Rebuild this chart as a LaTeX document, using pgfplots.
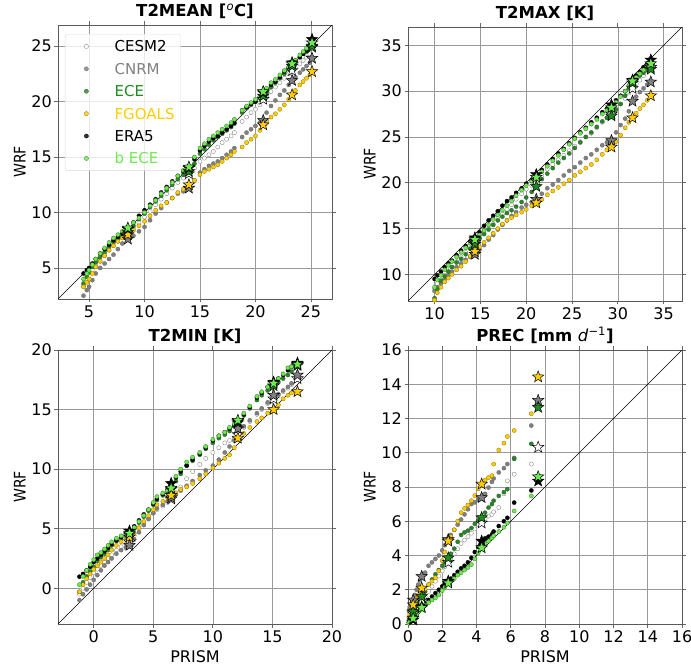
\documentclass[border=0pt]{standalone}
\usepackage{graphicx}
\usepackage{pgfplots}
\pgfplotsset{compat=1.18}
\usepackage{pgfplotstable}
\usepackage{fontspec}
\setmainfont{DejaVu Sans}
\definecolor{cnrm}{RGB}{128,128,128}
\definecolor{ece}{RGB}{30,140,30}
\definecolor{fgoals}{RGB}{255,205,0}
\definecolor{bece}{RGB}{110,235,80}

\pgfdeclareplotmark{fstar}{%
 \pgfpathmoveto{\pgfpointpolar{90}{\pgfplotmarksize}}%
 \pgfpathlineto{\pgfpointpolar{126}{0.42\pgfplotmarksize}}%
 \pgfpathlineto{\pgfpointpolar{162}{\pgfplotmarksize}}%
 \pgfpathlineto{\pgfpointpolar{198}{0.42\pgfplotmarksize}}%
 \pgfpathlineto{\pgfpointpolar{234}{\pgfplotmarksize}}%
 \pgfpathlineto{\pgfpointpolar{270}{0.42\pgfplotmarksize}}%
 \pgfpathlineto{\pgfpointpolar{306}{\pgfplotmarksize}}%
 \pgfpathlineto{\pgfpointpolar{342}{0.42\pgfplotmarksize}}%
 \pgfpathlineto{\pgfpointpolar{18}{\pgfplotmarksize}}%
 \pgfpathlineto{\pgfpointpolar{54}{0.42\pgfplotmarksize}}%
 \pgfpathclose\pgfusepathqfillstroke}

\newcommand{\wrf}{{\fontsize{16}{19}\selectfont\scalebox{0.88}[1]{WRF}}}

\pgfplotsset{
 qq/.style={width=274pt,height=274pt,scale only axis,anchor=north west,
  grid=major, major grid style={black!40,line width=0.6pt},
  axis line style={black!65,line width=0.8pt},
  tick align=outside, major tick length=3.5pt, tick style={black!60,line width=0.8pt},
  /pgf/number format/assume math mode=true,
  ticklabel style={font=\fontsize{16}{19}\selectfont},
  xticklabel style={inner sep=3pt},
  yticklabel style={inner sep=2.5pt},
  title style={font=\fontsize{16.5}{19}\selectfont\bfseries, at={(axis description cs:0.5,1)}, anchor=base, yshift=2.5pt},
  every axis y label/.style={at={(axis description cs:-0.139,0.5)}, rotate=90, anchor=center},
  every axis x label/.style={at={(axis description cs:0.5,-0.12)}, anchor=center, font=\fontsize{16}{19}\selectfont},
  ylabel={\wrf},
  legend image code/.code={\path (0pt,0pt) (30pt,0pt); \draw[mark repeat=2,mark phase=2] plot coordinates {(0pt,0pt) (15pt,0pt) (30pt,0pt)};},
 },
 dot/.style={only marks, mark=*, mark size=2.1pt},
 cS/.style={dot, mark options={fill=white, draw=black!55, line width=0.3pt}},
 nS/.style={dot, mark options={fill=cnrm, draw=black!60, line width=0.3pt}},
 eS/.style={dot, mark options={fill=ece, draw=black!70, line width=0.3pt}},
 fS/.style={dot, mark options={fill=fgoals, draw=fgoals!55!black, line width=0.3pt}},
 rS/.style={dot, mark options={fill=black, draw=black, line width=0.3pt}},
 bS/.style={dot, mark options={fill=bece, draw=bece!50!black, line width=0.3pt}},
 st/.style={only marks, mark=fstar, mark size=6pt, forget plot, mark options={draw=black, line width=0.5pt, fill=#1}},
 diag/.style={black, line width=0.5pt, forget plot},
}

% ---------------- T2MEAN ----------------
\pgfplotstableread{
x c n e f r b
4.5 3.4 2.5 3.6 3.3 4.5 4.0
4.8 3.9 3.0 4.2 3.7 4.8 4.5
5.0 4.3 3.3 4.6 4.0 5.0 4.8
5.3 4.8 3.9 5.1 4.5 5.4 5.3
5.6 5.2 4.5 5.5 5.1 5.8 5.8
6.0 5.6 5.0 6.0 5.6 6.3 6.3
6.4 6.1 5.4 6.4 6.1 6.7 6.8
6.8 6.6 5.8 6.9 6.6 7.1 7.3
7.2 7.0 6.2 7.3 7.0 7.5 7.7
7.6 7.4 6.7 7.6 7.4 7.8 8.0
8.0 7.7 7.2 7.9 7.7 8.1 8.3
8.5 8.0 7.6 8.2 8.0 8.5 8.6
9.0 8.6 7.9 8.8 8.4 9.1 9.1
9.5 9.1 8.3 9.4 8.8 9.7 9.5
10.0 9.6 8.7 9.9 9.2 10.2 10.0
10.5 10.1 9.3 10.5 9.7 10.7 10.6
11.0 10.7 9.9 11.0 10.2 11.2 11.1
11.5 11.2 10.4 11.5 10.6 11.8 11.7
12.0 11.7 10.9 12.0 10.9 12.3 12.2
12.5 12.2 11.3 12.5 11.3 12.8 12.7
13.0 12.7 11.7 13.0 11.8 13.3 13.3
13.5 13.1 11.9 13.4 12.1 13.7 13.8
14.0 13.5 12.2 13.7 12.5 14.0 14.1
14.5 14.0 12.9 14.4 12.9 14.8 15.0
15.0 14.6 13.6 15.3 13.4 15.6 15.8
15.4 14.9 13.9 15.7 13.7 16.0 16.2
15.8 15.2 14.2 16.1 13.9 16.4 16.6
16.2 15.5 14.4 16.5 14.1 16.7 16.9
16.6 15.9 14.6 16.8 14.3 16.9 17.2
17.0 16.3 14.9 17.1 14.6 17.2 17.5
17.4 16.6 15.2 17.4 14.9 17.5 17.8
17.8 16.9 15.5 17.7 15.2 17.8 18.1
18.1 17.2 15.8 18.0 15.5 18.1 18.4
18.8 18.2 16.8 19.0 15.9 19.2 19.2
19.2 18.6 17.2 19.4 16.3 19.5 19.6
19.6 19.0 17.5 19.7 16.6 19.8 19.9
20.0 19.3 17.8 20.0 16.9 20.0 20.2
20.4 19.7 18.1 20.3 17.4 20.4 20.5
20.7 20.2 18.3 20.5 17.9 20.8 20.8
21.0 20.5 19.0 20.8 18.2 21.1 21.2
21.4 20.9 19.6 21.3 18.6 21.5 21.7
21.8 21.3 20.1 21.7 18.9 21.8 22.0
22.2 21.7 20.6 22.1 19.3 22.2 22.4
22.6 22.1 21.0 22.5 19.7 22.7 22.8
23.0 22.5 21.5 22.9 20.2 23.1 23.1
23.3 22.8 21.9 23.2 20.6 23.5 23.4
23.6 23.0 22.2 23.5 21.0 23.7 23.7
24.0 23.4 22.6 24.0 21.5 24.0 24.2
24.3 23.7 22.9 24.3 21.8 24.3 24.5
24.6 24.0 23.2 24.5 22.1 24.6 24.8
24.9 24.3 23.5 24.8 22.4 24.9 25.0
}\tmean
\pgfplotstableread{
x c n e f r b
8.5 8.0 7.6 8.2 8.0 8.5 8.6
14.0 13.5 12.2 13.7 12.5 14.0 14.1
20.7 20.2 18.3 20.5 17.9 20.8 20.9
23.3 22.8 21.9 23.2 20.6 23.5 23.4
25.1 24.9 23.9 25.0 22.7 25.6 25.3
}\tmeanS

% ---------------- T2MAX ----------------
\pgfplotstableread{
x c n e f r b
10.0 8.5 8.2 7.4 7.2 9.5 8.6
10.3 9.0 8.6 8.4 8.0 9.9 9.4
10.7 9.4 9.0 9.3 8.6 10.3 9.9
11.1 9.9 9.5 9.8 9.2 10.8 10.5
11.5 10.4 9.9 10.3 9.6 11.2 11.0
11.9 10.8 10.3 10.8 10.0 11.5 11.4
12.4 11.4 10.8 11.3 10.5 12.1 11.9
12.9 11.9 11.2 11.7 10.9 12.6 12.4
13.4 12.4 11.6 12.2 11.4 13.1 12.9
13.9 12.9 11.9 12.8 12.0 13.6 13.4
14.4 13.5 12.2 13.3 12.5 14.0 13.8
14.9 14.0 12.7 13.9 13.0 14.6 14.3
15.4 14.5 13.2 14.4 13.5 15.3 14.8
15.9 15.0 13.8 14.9 14.0 15.9 15.4
16.4 15.5 14.3 15.4 14.5 16.4 16.0
16.9 16.1 14.9 15.9 15.0 16.9 16.5
17.4 16.6 15.4 16.3 15.5 17.5 17.0
17.9 17.1 15.9 16.7 15.9 18.0 17.5
18.4 17.6 16.4 17.0 16.2 18.4 18.0
18.9 18.2 16.8 17.4 16.5 18.9 18.6
19.5 18.8 17.3 17.9 16.8 19.4 19.2
20.0 19.3 17.6 18.4 17.1 19.9 19.7
20.6 19.7 17.9 19.0 17.5 20.3 20.2
21.1 20.2 18.2 19.6 17.8 20.7 20.6
21.7 20.8 18.8 20.4 18.2 21.4 21.2
22.3 21.5 19.4 21.0 18.7 22.0 21.8
22.9 22.0 19.8 21.6 19.1 22.6 22.4
23.5 22.5 20.3 22.2 19.5 23.2 23.0
24.1 23.0 20.8 22.7 19.9 23.7 23.6
24.7 23.5 21.3 23.2 20.3 24.3 24.2
25.3 24.0 21.7 23.8 20.8 24.9 24.8
25.9 24.5 22.2 24.4 21.2 25.5 25.4
26.5 25.0 22.7 25.0 21.6 26.0 25.9
27.1 25.4 23.1 25.5 22.0 26.6 26.4
27.7 26.0 23.6 26.1 22.5 27.1 26.9
28.3 26.6 24.1 26.7 23.1 27.7 27.5
28.8 27.1 24.4 27.1 23.6 28.1 27.9
29.3 27.5 24.6 27.3 23.9 28.5 28.2
29.8 28.0 25.5 28.0 24.5 29.0 28.8
30.3 28.6 26.3 28.6 25.2 29.5 29.4
30.8 29.2 27.0 29.5 26.0 30.0 30.0
31.2 29.8 27.8 30.3 26.6 30.6 30.6
31.6 30.3 28.9 30.9 27.1 31.2 31.1
32.0 30.8 29.4 31.3 27.6 31.7 31.5
32.4 31.2 29.9 31.7 28.1 32.1 31.9
32.8 31.7 30.3 32.0 28.5 32.6 32.3
33.2 32.2 30.7 32.3 29.0 33.0 32.7
}\tmax
\pgfplotstableread{
x c n e f r b
14.4 13.5 12.2 13.3 12.5 14.0 13.8
21.1 20.2 18.2 19.6 17.8 20.9 20.6
29.3 27.5 24.6 27.3 23.9 28.5 28.2
31.6 30.3 28.9 30.9 27.1 31.2 31.1
33.6 32.6 31.0 32.4 29.5 33.4 33.0
}\tmaxS

% ---------------- T2MIN ----------------
\pgfplotstableread{
x c n e f r b
-1.2 -0.5 -1.0 -0.3 -0.3 0.97 0.3
-0.9 0.0 -0.5 0.5 0.3 1.2 1.0
-0.6 0.5 -0.1 1.0 0.8 1.5 1.5
-0.3 0.9 0.3 1.4 1.2 1.8 2.0
0.0 1.3 0.7 1.8 1.6 2.2 2.4
0.3 1.6 1.1 2.3 1.9 2.5 2.8
0.6 1.9 1.5 2.6 2.2 2.8 3.0
0.9 2.2 1.9 2.9 2.5 3.1 3.3
1.2 2.5 2.2 3.2 2.8 3.4 3.6
1.5 2.8 2.5 3.6 3.2 3.7 3.9
1.9 3.2 2.9 4.0 3.6 4.0 4.2
2.3 3.5 3.2 4.2 3.9 4.3 4.4
2.7 3.7 3.4 4.4 4.1 4.6 4.5
3.0 3.9 3.6 4.6 4.3 4.8 4.6
3.4 4.4 4.1 5.0 4.6 5.2 5.1
3.8 4.9 4.7 5.5 5.1 5.7 5.6
4.2 5.4 5.3 6.0 5.6 6.2 6.1
4.6 5.9 5.8 6.5 6.1 6.6 6.6
5.0 6.3 6.3 7.0 6.6 7.1 7.2
5.3 6.6 6.7 7.4 7.0 7.5 7.7
5.8 6.9 7.0 7.8 7.3 7.9 8.0
6.2 7.2 7.3 8.1 7.6 8.3 8.2
6.5 7.5 7.6 8.3 7.8 8.8 8.4
6.9 8.0 7.9 9.0 8.0 9.3 9.4
7.3 8.5 8.2 9.6 8.3 9.8 10.0
7.8 9.2 8.6 10.3 8.5 10.3 10.6
8.3 9.8 9.0 10.7 8.8 10.8 11.0
8.9 10.4 9.5 11.2 9.2 11.3 11.4
9.4 10.9 9.9 11.7 9.6 11.8 11.9
10.0 11.4 10.3 12.2 10.1 12.4 12.5
10.5 11.8 10.8 12.6 10.5 12.8 12.8
11.0 12.2 11.4 12.9 10.9 13.1 13.1
11.4 12.4 11.9 13.2 11.2 13.4 13.5
11.8 12.6 12.4 13.6 11.8 13.7 13.8
12.1 12.9 12.9 13.9 12.5 14.0 14.1
12.6 13.5 13.6 14.5 13.0 14.6 14.7
13.1 14.0 14.1 15.1 13.5 15.2 15.3
13.7 14.6 14.7 15.8 14.0 16.0 16.1
14.1 15.0 15.1 16.2 14.3 16.4 16.5
14.6 15.5 15.6 16.6 14.7 16.9 16.9
15.1 15.9 16.0 17.0 15.0 17.3 17.2
15.5 16.2 16.3 17.3 15.4 17.6 17.6
15.9 16.5 16.6 17.6 15.9 17.9 18.0
16.3 16.8 16.9 17.9 16.2 18.3 18.5
16.6 17.1 17.2 18.2 16.4 18.6 18.6
}\tmin
\pgfplotstableread{
x c n e f r b
3.0 3.9 3.6 4.5 4.3 4.8 4.6
6.5 7.5 7.6 8.3 7.8 8.8 8.4
12.1 12.9 13.4 13.9 12.6 14.0 14.1
15.1 15.9 16.2 17.0 15.0 17.3 17.2
17.1 17.6 17.9 18.7 16.5 18.9 18.8
}\tminS

% ---------------- PREC ----------------
\pgfplotstableread{
x c n e f r b
0.05 0.10 0.80 0.20 0.40 0.10 0.05
0.10 0.20 1.00 0.35 0.60 0.15 0.12
0.20 0.40 1.20 0.55 0.90 0.20 0.25
0.30 0.60 1.40 0.72 1.10 0.24 0.33
0.40 0.75 1.70 0.90 1.30 0.40 0.45
0.50 0.90 2.00 1.05 1.50 0.55 0.58
0.60 1.05 2.30 1.25 1.70 0.70 0.70
0.70 1.20 2.55 1.45 1.90 0.85 0.82
0.80 1.40 2.78 1.60 2.10 1.00 0.95
0.90 1.50 2.90 1.75 2.00 1.10 1.02
1.00 1.60 3.00 1.90 2.05 1.20 1.10
1.20 1.90 3.40 2.30 2.30 1.40 1.25
1.40 2.20 3.60 2.60 2.50 1.60 1.40
1.60 2.50 3.80 2.90 2.70 1.80 1.52
1.80 2.80 4.00 3.15 3.10 2.00 1.70
2.00 3.10 4.30 3.40 3.70 2.20 1.95
2.15 3.35 4.60 3.60 4.20 2.35 2.15
2.35 3.60 4.93 3.86 4.84 2.50 2.39
2.50 3.80 5.20 4.10 5.10 2.65 2.50
2.70 4.10 5.50 4.40 5.50 2.85 2.65
2.90 4.40 5.80 4.80 6.00 3.05 2.85
3.10 4.70 6.10 5.20 6.50 3.25 3.00
3.30 4.90 6.40 5.35 6.75 3.40 3.15
3.50 5.10 6.70 5.45 6.95 3.60 3.30
3.70 5.30 7.00 5.60 7.20 3.86 3.47
3.90 5.55 7.10 5.85 7.50 4.20 3.80
4.10 5.80 7.25 6.05 7.90 4.50 4.15
4.30 5.99 7.38 6.21 8.17 4.84 4.45
4.50 6.15 7.60 6.50 8.40 5.00 4.70
4.70 6.30 7.97 6.80 8.55 5.10 4.85
4.90 6.40 8.30 7.00 8.66 5.23 5.03
5.00 6.55 8.50 7.20 9.34 5.40 5.15
5.30 6.80 8.85 7.48 10.16 5.72 5.40
5.60 7.60 9.10 7.70 10.56 6.00 5.65
5.80 8.36 9.34 7.87 10.95 6.20 5.90
6.20 8.75 9.70 9.64 11.30 7.09 6.60
7.20 9.34 11.59 10.52 12.28 7.80 7.48
}\prec
\pgfplotstableread{
x c n e f r b
0.3 0.60 1.40 0.72 1.12 0.24 0.33
0.8 1.40 2.78 1.60 2.10 1.00 0.95
2.35 3.60 4.93 3.86 4.84 2.50 2.39
4.3 5.90 7.38 6.21 8.17 4.84 4.45
7.6 10.32 13.06 12.65 14.43 8.35 8.60
}\precS

\newcommand{\allseries}[2]{%
 \addplot[cS] table[x=x,y=c]{#1};
 \addplot[nS] table[x=x,y=n]{#1};
 \addplot[eS] table[x=x,y=e]{#1};
 \addplot[fS] table[x=x,y=f]{#1};
 \addplot[rS] table[x=x,y=r]{#1};
 \addplot[bS] table[x=x,y=b]{#1};
 \addplot[st=white] table[x=x,y=c]{#2};
 \addplot[st=cnrm] table[x=x,y=n]{#2};
 \addplot[st=ece] table[x=x,y=e]{#2};
 \addplot[st=fgoals] table[x=x,y=f]{#2};
 \addplot[st=black] table[x=x,y=r]{#2};
 \addplot[st=bece] table[x=x,y=b]{#2};
}

\begin{document}
\begin{tikzpicture}
\useasboundingbox (0,0) rectangle (691pt,667pt);

% T2MEAN
\begin{axis}[qq, at={(58pt,642pt)},
 title={T2MEAN [\textsuperscript{\normalfont\itshape o}C]},
 xmin=2.2,xmax=26.9,ymin=2.2,ymax=26.9,
 xtick={5,10,15,20,25}, ytick={5,10,15,20,25},
 legend style={at={(axis description cs:0.0255,0.967)}, anchor=north west,
  draw=black!15, fill=white, fill opacity=0.8, text opacity=1, rounded corners=2pt,
  font=\fontsize{15}{18}\selectfont, row sep=0pt, column sep=13pt,
  inner xsep=6pt, inner ysep=1pt,
  nodes={inner sep=0pt, text height=16.7pt, text depth=5.7pt}},
 legend cell align=left]
\addplot[diag] coordinates {(2.2,2.2) (26.9,26.9)};
\addplot[cS] table[x=x,y=c]{\tmean}; \addlegendentry{CESM2}
\addplot[nS] table[x=x,y=n]{\tmean}; \addlegendentry{\textcolor{cnrm}{CNRM}}
\addplot[eS] table[x=x,y=e]{\tmean}; \addlegendentry{\textcolor{ece}{ECE}}
\addplot[fS] table[x=x,y=f]{\tmean}; \addlegendentry{\textcolor{fgoals}{FGOALS}}
\addplot[rS] table[x=x,y=r]{\tmean}; \addlegendentry{ERA5}
\addplot[bS] table[x=x,y=b]{\tmean}; \addlegendentry{\textcolor{bece}{b ECE}}
\addplot[st=white] table[x=x,y=c]{\tmeanS};
\addplot[st=cnrm] table[x=x,y=n]{\tmeanS};
\addplot[st=ece] table[x=x,y=e]{\tmeanS};
\addplot[st=fgoals] table[x=x,y=f]{\tmeanS};
\addplot[st=black] table[x=x,y=r]{\tmeanS};
\addplot[st=bece] table[x=x,y=b]{\tmeanS};
\end{axis}

% T2MAX
\begin{axis}[qq, at={(408pt,640pt)},
 title={T2MAX [K]},
 xmin=7.1,xmax=37,ymin=7.1,ymax=37,
 xtick={10,15,20,25,30,35}, ytick={10,15,20,25,30,35}]
\addplot[diag] coordinates {(7.1,7.1) (37,37)};
\allseries{\tmax}{\tmaxS}
\end{axis}

% T2MIN
\begin{axis}[qq, at={(58pt,317pt)},
 title={T2MIN [K]}, xlabel={PRISM},
 xmin=-3,xmax=20,ymin=-3,ymax=20,
 xtick={0,5,10,15,20}, ytick={0,5,10,15,20}]
\addplot[diag] coordinates {(-3,-3) (20,20)};
\allseries{\tmin}{\tminS}
\end{axis}

% PREC
\begin{axis}[qq, at={(408pt,317pt)},
 title={PREC [mm \textnormal{\itshape d}\textsuperscript{\normalfont −1}]}, xlabel={PRISM},
 xmin=0,xmax=16,ymin=0,ymax=16,
 xtick={0,2,...,16}, ytick={0,2,...,16}]
\addplot[diag] coordinates {(0,0) (16,16)};
\allseries{\prec}{\precS}
\end{axis}
\end{tikzpicture}
\end{document}
